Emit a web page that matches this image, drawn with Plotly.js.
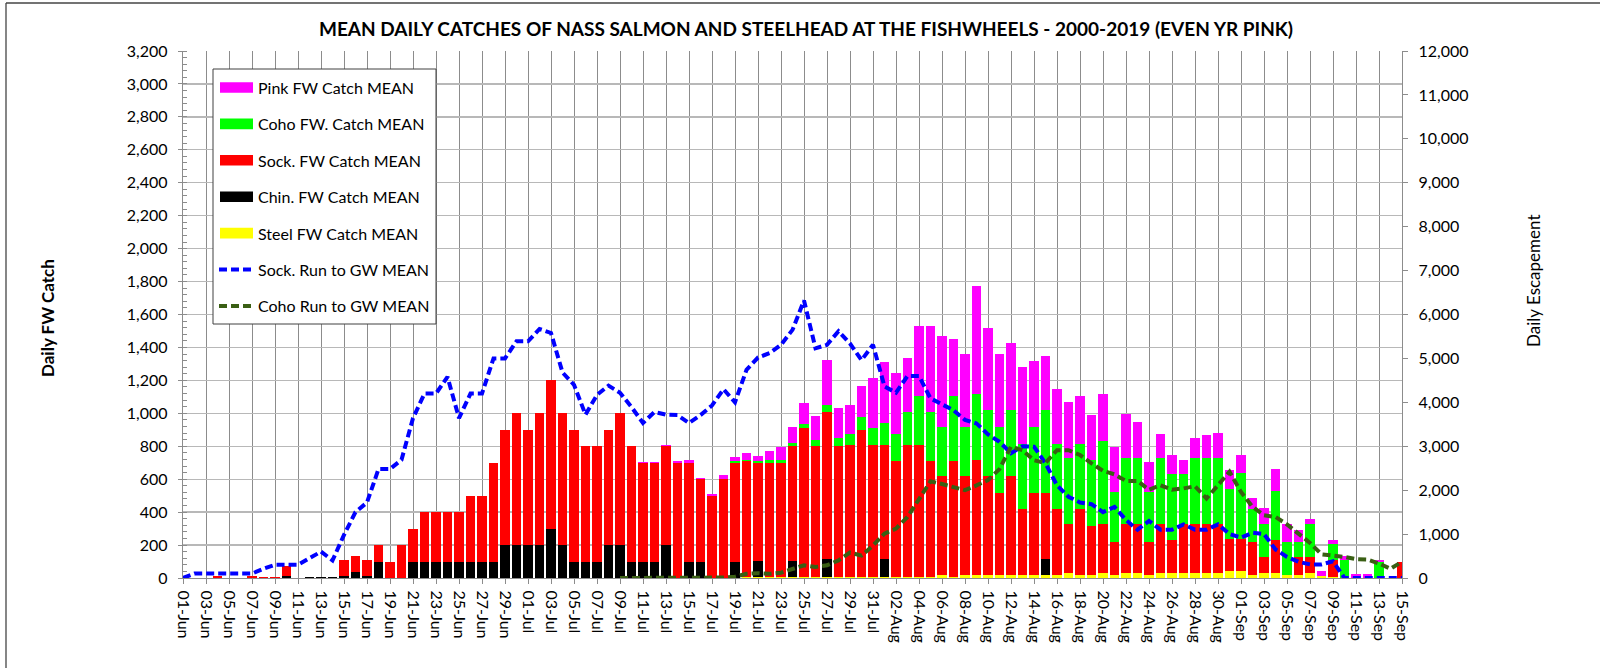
<!DOCTYPE html>
<html><head><meta charset="utf-8">
<script src="https://cdn.plot.ly/plotly-3.0.1.min.js"></script>
<style>html,body{margin:0;padding:0;background:#fff;} #chart{width:1600px;height:668px;}</style>
</head><body><div id="chart"></div>
<script>
const days = ['01-Jun','02-Jun','03-Jun','04-Jun','05-Jun','06-Jun','07-Jun','08-Jun','09-Jun','10-Jun',
'11-Jun','12-Jun','13-Jun','14-Jun','15-Jun','16-Jun','17-Jun','18-Jun','19-Jun','20-Jun',
'21-Jun','22-Jun','23-Jun','24-Jun','25-Jun','26-Jun','27-Jun','28-Jun','29-Jun','30-Jun',
'01-Jul','02-Jul','03-Jul','04-Jul','05-Jul','06-Jul','07-Jul','08-Jul','09-Jul','10-Jul',
'11-Jul','12-Jul','13-Jul','14-Jul','15-Jul','16-Jul','17-Jul','18-Jul','19-Jul','20-Jul',
'21-Jul','22-Jul','23-Jul','24-Jul','25-Jul','26-Jul','27-Jul','28-Jul','29-Jul','30-Jul','31-Jul',
'01-Aug','02-Aug','03-Aug','04-Aug','05-Aug','06-Aug','07-Aug','08-Aug','09-Aug','10-Aug',
'11-Aug','12-Aug','13-Aug','14-Aug','15-Aug','16-Aug','17-Aug','18-Aug','19-Aug','20-Aug',
'21-Aug','22-Aug','23-Aug','24-Aug','25-Aug','26-Aug','27-Aug','28-Aug','29-Aug','30-Aug','31-Aug',
'01-Sep','02-Sep','03-Sep','04-Sep','05-Sep','06-Sep','07-Sep','08-Sep','09-Sep','10-Sep',
'11-Sep','12-Sep','13-Sep','14-Sep','15-Sep'];

const tickLabels = ['01-Jun','03-Jun','05-Jun','07-Jun','09-Jun','11-Jun','13-Jun','15-Jun','17-Jun','19-Jun',
'21-Jun','23-Jun','25-Jun','27-Jun','29-Jun','01-Jul','03-Jul','05-Jul','07-Jul','09-Jul','11-Jul','13-Jul',
'15-Jul','17-Jul','19-Jul','21-Jul','23-Jul','25-Jul','27-Jul','29-Jul','31-Jul','02-Aug','04-Aug','06-Aug',
'08-Aug','10-Aug','12-Aug','14-Aug','16-Aug','18-Aug','20-Aug','22-Aug','24-Aug','26-Aug','28-Aug','30-Aug',
'01-Sep','03-Sep','05-Sep','07-Sep','09-Sep','11-Sep','13-Sep','15-Sep'];

const steelCatch = [0,0,0,0,0,0,0,0,0,0, 0,0,0,0,0,3,0,0,0,0, 0,0,0,0,0,0,0,0,0,0,
0,0,0,0,0,0,0,0,0,0, 0,0,0,0,0,0,0,0,0,5, 5,5,5,5,5,5,5,5,5,5, 5,
8,8,8,8,8,20,8,20,20,20, 20,20,20,20,20,20,30,20,20,30, 20,30,30,20,30,30,30,30,30,30, 40,
40,20,30,30,20,20,30,10,5,0, 0,0,0,0,0];

const chinCatch = [0,0,0,0,0,3,0,0,0,10, 0,8,8,8,10,33,10,100,0,0, 100,100,100,100,100,100,100,100,200,200,
200,200,300,200,100,100,100,200,200,100, 100,100,200,0,100,100,0,0,100,0, 100,0,0,100,0,0,109,0,0,0, 0,
109,0,0,0,0,0,0,0,0,0, 0,0,0,0,97,0,0,0,0,0, 0,0,0,0,0,0,0,0,0,0, 0,
0,0,0,0,0,0,0,0,0,0, 0,0,0,0,0];

const sockCatch = [0,0,0,10,0,0,15,8,8,61, 0,0,0,0,98,97,98,100,100,200, 200,300,300,300,300,400,400,600,700,800,
700,800,900,800,800,700,700,700,800,700, 600,600,600,700,600,500,495,600,600,705, 595,695,695,695,905,795,894,795,801,895, 801,
689,701,798,798,701,598,701,598,699,598, 499,598,399,499,402,399,298,399,298,298, 199,298,298,199,298,199,298,298,298,298, 197,
197,199,98,199,0,108,98,0,102,0, 0,0,0,0,100];

const cohoCatch = [0,0,0,0,0,0,0,0,0,0, 0,0,0,0,0,0,0,0,0,0, 0,0,0,0,0,0,0,0,0,0,
0,0,0,0,0,0,0,0,0,0, 0,0,0,0,0,0,0,0,8,6, 10,16,18,20,26,36,40,53,67,77, 103,
138,168,203,302,300,300,399,300,401,401, 399,401,397,399,500,397,403,397,401,501, 302,403,403,302,403,401,302,403,403,403, 304,
401,202,202,300,199,91,202,0,102,111, 0,0,97,0,0];

const pinkCatch = [0,0,0,0,0,0,0,0,0,0, 0,0,0,0,0,0,0,0,0,0, 0,0,0,0,0,0,0,0,0,0,
0,0,0,0,0,0,0,0,2,4, 5,5,8,12,14,8,16,24,24,43, 30,55,79,97,126,148,275,182,176,188, 304,
365,365,328,420,519,551,343,445,655,501, 441,411,464,399,332,329,337,290,268,287, 275,264,217,184,146,114,85,122,140,150, 113,
108,67,97,133,107,75,31,30,20,21, 26,22,10,0,0];

const sockRun = [0,100,100,100,100,100,100,210,300,300, 300,450,600,400,980,1500,1720,2480,2480,2690, 3640,4200,4200,4580,3640,4200,4200,5000,5000,5390,
5390,5670,5580,4680,4400,3720,4170,4380,4220,3890, 3530,3780,3720,3710,3530,3710,3930,4300,4000,4740, 5020,5120,5310,5650,6320,5230,5310,5620,5340,4960, 5310,
4360,4220,4600,4600,4090,3960,3820,3600,3520,3270, 3100,2840,3000,2990,2610,2110,1850,1720,1680,1500, 1620,1320,1100,1300,1100,1100,1220,1100,1100,1220, 1000,
920,1030,1000,650,480,370,310,310,380,0, 0,0,0,0,0];

const cohoRun = [null,null,null,null,null,null,null,null,null,null, null,null,null,null,null,null,null,null,null,null, null,null,null,null,null,null,null,null,null,null,
null,null,null,null,null,null,null,null,0,0, 0,0,0,0,0,0,0,10,30,95, 110,95,120,200,290,250,290,400,580,510, 740,
1010,1125,1390,1810,2200,2140,2075,2000,2110,2230, 2480,2990,2910,2680,2620,2910,2910,2800,2610,2440, 2360,2210,2210,2010,2110,2010,2040,2090,1810,2110, 2420,
1960,1620,1430,1390,1220,1010,800,540,520,480, 430,420,330,210,370];

const legendNames = ['Pink FW Catch MEAN','Coho FW. Catch MEAN','Sock. FW Catch MEAN','Chin. FW Catch MEAN','Steel FW Catch MEAN','Sock. Run to GW MEAN','Coho Run to GW MEAN'];

const FONT = 'Lato, "Open Sans", Arial, sans-serif';
const COL = {pink:'#FF00FF', coho:'#00FF00', sock:'#FF0000', chin:'#000000', steel:'#FFFF00', sockRun:'#0000FF', cohoRun:'#3A5F14'};
const RUNDASH = '8px,4px';

// plot-area pixel frame
const P = {l:183, r:1402, t:51, b:578};
const px = x => (x - P.l) / (P.r - P.l);
const py = y => (P.b - y) / (P.b - P.t);

function bar(name, y, color){
  return {type:'bar', name:name, x:days, y:y, marker:{color:color, line:{width:0}}, showlegend:false, hoverinfo:'x+y+name'};
}
const traces = [
  bar(legendNames[4], steelCatch, COL.steel),
  bar(legendNames[3], chinCatch, COL.chin),
  bar(legendNames[2], sockCatch, COL.sock),
  bar(legendNames[1], cohoCatch, COL.coho),
  bar(legendNames[0], pinkCatch, COL.pink),
  {type:'scatter', mode:'lines', name:legendNames[5], x:days, y:sockRun, yaxis:'y2', showlegend:false,
   line:{color:COL.sockRun, width:4, dash:RUNDASH}, cliponaxis:false},
  {type:'scatter', mode:'lines', name:legendNames[6], x:days, y:cohoRun, yaxis:'y2', showlegend:false,
   line:{color:COL.cohoRun, width:4, dash:RUNDASH}, cliponaxis:false}
];

// custom legend (Excel-like keys)
const legendKinds = [['bar',COL.pink],['bar',COL.coho],['bar',COL.sock],['bar',COL.chin],['bar',COL.steel],['line',COL.sockRun],['line',COL.cohoRun]];
const shapes = [
  {type:'line', xref:'paper', yref:'paper', x0:px(6), x1:px(1600), y0:py(3), y1:py(3), line:{color:'#444', width:1.3}},
  {type:'line', xref:'paper', yref:'paper', x0:px(6), x1:px(6), y0:py(3), y1:py(668), line:{color:'#444', width:1.3}},
  {type:'rect', xref:'paper', yref:'paper', x0:px(213), x1:px(436), y0:py(69), y1:py(324), line:{color:'#404040', width:1}, fillcolor:'#fff', layer:'above'}
];
const annotations = [];
legendKinds.forEach((k, i) => {
  const yc = 87.5 + i * 36.4;
  if (k[0] === 'bar') {
    shapes.push({type:'rect', xref:'paper', yref:'paper', x0:px(220), x1:px(253), y0:py(yc-5.3), y1:py(yc+5.3), line:{width:0}, fillcolor:k[1], layer:'above'});
  } else {
    shapes.push({type:'line', xref:'paper', yref:'paper', x0:px(219), x1:px(254), y0:py(yc), y1:py(yc), line:{color:k[1], width:4, dash:RUNDASH}, layer:'above'});
  }
  annotations.push({xref:'paper', yref:'paper', x:px(256), y:py(yc), xanchor:'left', yanchor:'middle', showarrow:false,
    text:legendNames[i], font:{family:FONT, size:16, color:'#000'}});
});
annotations.push({xref:'paper', yref:'paper', x:px(47), y:py(318), xanchor:'center', yanchor:'middle', showarrow:false, textangle:-90,
  text:'<b>Daily FW Catch</b>', font:{family:FONT, size:17, color:'#000'}});
annotations.push({xref:'paper', yref:'paper', x:px(1533), y:py(281), xanchor:'center', yanchor:'middle', showarrow:false, textangle:-90,
  text:'Daily Escapement', font:{family:FONT, size:17, color:'#000'}});

const layout = {
  width:1600, height:668,
  margin:{l:P.l, r:1600-P.r, t:P.t, b:668-P.b, pad:0},
  paper_bgcolor:'#fff', plot_bgcolor:'#fff',
  font:{family:FONT, size:16, color:'#000'},
  title:{text:'<b>MEAN DAILY CATCHES OF NASS SALMON AND STEELHEAD AT THE FISHWHEELS - 2000-2019 (EVEN YR PINK)</b>',
    font:{family:FONT, size:19, color:'#000'}, x:806/1600, xref:'container', xanchor:'center', y:1-29/668, yref:'container', yanchor:'middle'},
  barmode:'stack', bargap:0.2,
  showlegend:false,
  xaxis:{type:'category', categoryorder:'array', categoryarray:days, range:[0, days.length-1],
    tickmode:'array', tickvals:tickLabels, ticktext:tickLabels, tickangle:90, ticklabelstandoff:3,
    showgrid:true, gridcolor:'#8c8c8c', gridwidth:1, ticks:'outside', ticklen:5, tickcolor:'#8c8c8c',
    showline:true, linecolor:'#8c8c8c', linewidth:1.3, zeroline:false, tickfont:{family:FONT, size:16, color:'#000'}},
  yaxis:{range:[0,3200], dtick:200, tickformat:',d', showgrid:true, gridcolor:'#b8b8b8', gridwidth:1.3,
    showline:true, linecolor:'#8c8c8c', linewidth:1.3, ticks:'outside', ticklen:4, tickcolor:'#8c8c8c', zeroline:false,
    ticklabelstandoff:7,
    minor:{dtick:40, ticks:'inside', ticklen:4, tickcolor:'#8c8c8c', showgrid:false},
    tickfont:{family:FONT, size:16, color:'#000'}},
  yaxis2:{overlaying:'y', side:'right', range:[0,12000], dtick:1000, tickformat:',d', showgrid:false,
    showline:true, linecolor:'#8c8c8c', linewidth:1.3, ticks:'outside', ticklen:5, tickcolor:'#8c8c8c', zeroline:false,
    ticklabelstandoff:7,
    tickfont:{family:FONT, size:16, color:'#000'}},
  shapes:shapes, annotations:annotations
};
Plotly.newPlot('chart', traces, layout, {displayModeBar:false, staticPlot:true});
</script></body></html>
